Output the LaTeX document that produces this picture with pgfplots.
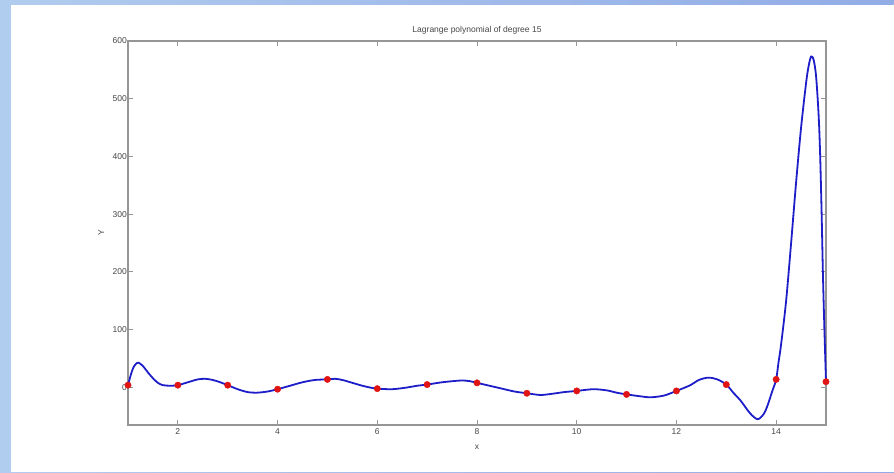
\documentclass[border=0pt]{standalone}
\usepackage{pgfplots}
\pgfplotsset{compat=1.18}
\usepackage{fontspec}
\setmainfont{Liberation Sans}
\definecolor{bgA}{RGB}{176,204,238}
\definecolor{bgB}{RGB}{146,172,230}
\definecolor{curve}{RGB}{30,30,200}
\definecolor{pts}{RGB}{225,20,20}
\definecolor{axgray}{RGB}{150,150,150}
\definecolor{txt}{RGB}{70,70,70}
\begin{document}
\begin{tikzpicture}[x=1pt,y=1pt]
\useasboundingbox (0,0) rectangle (894,472);
\shade[left color=bgA, right color=bgB] (0,0) rectangle (894,472);
\fill[white] (11,0) rectangle (894,467);
\begin{axis}[
  at={(128pt,47pt)}, anchor=south west,
  scale only axis, width=698pt, height=384pt,
  xmin=1, xmax=15, ymin=-65, ymax=600,
  xtick={2,4,...,14}, ytick={0,100,...,600},
  tick align=inside, major tick length=5pt,
  axis line style={axgray, line width=1.3pt},
  every tick/.style={axgray, line width=1pt},
  tick label style={font=\fontsize{8.5}{9}\selectfont, text=txt},
  /pgf/number format/assume math mode=true,
  yticklabel style={inner sep=1pt},
  title={Lagrange polynomial of degree 15},
  title style={font=\fontsize{8.5}{9}\selectfont, text=txt, yshift=-3pt},
  xlabel={x}, ylabel={Y},
  label style={font=\fontsize{8.5}{9}\selectfont, text=txt},
  xlabel style={yshift=-4pt},
  ylabel style={yshift=4pt},
  clip=false,
]
\addplot[curve, line width=1.8pt, smooth, tension=0.5] coordinates {
(1.00,4) (1.05,20) (1.10,33) (1.15,40) (1.21,43) (1.30,37) (1.40,26) (1.50,16)
(1.60,8) (1.70,4) (1.85,3) (2.00,4) (2.20,9) (2.40,14) (2.55,15) (2.70,13)
(2.85,9) (3.00,4) (3.20,-3) (3.40,-8) (3.59,-9) (3.80,-7) (4.00,-3) (4.25,3)
(4.50,9) (4.75,13) (5.00,14) (5.15,15) (5.30,13) (5.50,8) (5.70,3) (5.85,0)
(6.00,-2) (6.30,-3) (6.60,0) (6.80,3) (7.00,5) (7.30,9) (7.67,12) (7.85,11)
(8.00,8) (8.25,3) (8.50,-2) (8.75,-7) (9.00,-10) (9.27,-13) (9.50,-11) (9.75,-8)
(10.00,-6) (10.33,-3) (10.60,-5) (10.80,-9) (11.00,-12) (11.25,-15) (11.48,-17) (11.75,-14)
(12.00,-6) (12.28,4) (12.45,13) (12.64,17) (12.82,14) (13.00,5) (13.15,-10) (13.28,-22)
(13.48,-45) (13.63,-55) (13.75,-46) (13.82,-33) (13.92,-7) (14.00,14) (14.05,45) (14.10,75)
(14.20,150) (14.30,250) (14.40,355) (14.50,450) (14.60,527) (14.65,556) (14.70,573) (14.75,568)
(14.80,540) (14.85,475) (14.88,410) (14.91,310) (14.94,190) (14.97,95) (15.00,10)
};
\addplot[only marks, mark=*, mark size=3.2pt, pts, mark options={draw=pts, fill=pts}] coordinates {
(1,4) (2,4) (3,4) (4,-3) (5,14) (6,-2) (7,5) (8,8) (9,-10) (10,-6)
(11,-12) (12,-6) (13,5) (14,14) (15,10)
};
\end{axis}
\end{tikzpicture}
\end{document}
